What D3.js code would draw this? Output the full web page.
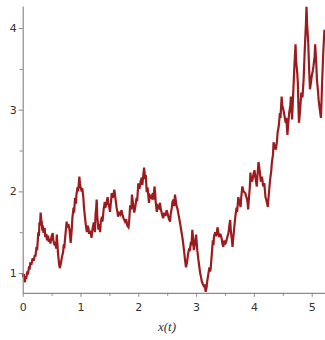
<!DOCTYPE html>
<html>
<head>
<meta charset="utf-8">
<script src="https://cdn.jsdelivr.net/npm/d3@7"></script>
<style>
html,body{margin:0;padding:0;background:#fff;}
svg{display:block;}
</style>
</head>
<body>
<svg id="chart" width="325" height="340"></svg>
<script>
// time values (t)
const tValues = [
0.00,0.01,0.02,0.03,0.04,0.05,0.06,0.08,0.09,0.11,0.12,0.13,0.15,0.17,0.19,0.21,0.22,0.24,0.25,0.27,
0.28,0.29,0.30,0.31,0.32,0.33,0.34,0.35,0.36,0.38,0.39,0.41,0.42,0.44,0.45,0.47,0.48,0.50,0.52,0.53,
0.55,0.56,0.58,0.59,0.60,0.61,0.62,0.63,0.645,0.66,0.68,0.70,0.71,0.72,0.73,0.75,0.76,0.77,0.79,0.81,
0.82,0.83,0.85,0.86,0.88,0.89,0.905,0.92,0.93,0.95,0.96,0.98,0.99,1.00,1.02,1.03,1.05,1.06,1.08,1.09,
1.11,1.12,1.135,1.15,1.17,1.19,1.21,1.23,1.25,1.26,1.27,1.28,1.29,1.31,1.32,1.34,1.35,1.37,1.38,1.40,
1.42,1.43,1.45,1.47,1.48,1.50,1.51,1.53,1.54,1.56,1.585,1.60,1.625,1.64,1.65,1.67,1.69,1.71,1.73,1.75,
1.77,1.79,1.81,1.83,1.84,1.86,1.88,1.89,1.91,1.93,1.95,1.97,1.98,2.00,2.02,2.04,2.06,2.07,2.09,2.10,
2.12,2.13,2.145,2.16,2.185,2.20,2.23,2.25,2.26,2.28,2.29,2.30,2.32,2.34,2.36,2.375,2.39,2.41,2.43,2.45,
2.47,2.49,2.51,2.53,2.55,2.56,2.58,2.59,2.61,2.62,2.635,2.65,2.66,2.68,2.69,2.71,2.73,2.75,2.77,2.79,
2.80,2.81,2.825,2.84,2.865,2.88,2.89,2.91,2.92,2.935,2.95,2.96,2.98,3.00,3.01,3.02,3.04,3.055,3.07,3.085,
3.10,3.12,3.14,3.15,3.165,3.18,3.19,3.21,3.23,3.24,3.25,3.27,3.29,3.30,3.31,3.33,3.35,3.37,3.38,3.40,
3.42,3.44,3.455,3.47,3.49,3.50,3.52,3.54,3.56,3.575,3.59,3.60,3.62,3.63,3.65,3.67,3.68,3.70,3.71,3.73,
3.75,3.77,3.78,3.80,3.82,3.85,3.87,3.89,3.90,3.91,3.93,3.94,3.95,3.97,3.99,4.01,4.03,4.05,4.06,4.08,
4.10,4.12,4.14,4.16,4.18,4.20,4.22,4.24,4.26,4.28,4.30,4.31,4.33,4.34,4.36,4.38,4.40,4.41,4.43,4.45,
4.46,4.48,4.49,4.51,4.53,4.55,4.56,4.58,4.59,4.61,4.63,4.64,4.65,4.66,4.68,4.70,4.72,4.73,4.75,4.76,
4.77,4.78,4.80,4.82,4.84,4.86,4.87,4.88,4.90,4.91,4.92,4.94,4.955,4.97,4.99,5.00,5.02,5.03,5.05,5.06,
5.08,5.09,5.11,5.12,5.14,5.16,5.17,5.18,5.20,5.22
];
// x(t) values
const xValues = [
1.00,0.95,0.99,0.91,0.89,0.96,0.93,1.02,0.98,1.08,1.04,1.13,1.10,1.18,1.15,1.22,1.20,1.32,1.28,1.50,
1.45,1.62,1.58,1.74,1.66,1.62,1.52,1.58,1.49,1.55,1.44,1.48,1.40,1.46,1.38,1.42,1.36,1.45,1.49,1.40,
1.34,1.38,1.30,1.47,1.36,1.25,1.18,1.10,1.06,1.12,1.20,1.26,1.35,1.30,1.40,1.55,1.63,1.56,1.60,1.53,
1.45,1.37,1.55,1.68,1.80,1.74,1.92,1.85,1.96,2.05,2.00,2.18,2.10,2.06,2.00,2.04,1.92,1.80,1.67,1.60,
1.50,1.58,1.56,1.48,1.52,1.43,1.55,1.62,1.50,1.72,1.78,1.90,1.70,1.53,1.60,1.50,1.62,1.69,1.63,1.78,
1.87,1.80,1.86,1.93,1.85,1.80,1.75,1.90,1.98,1.92,2.02,1.94,1.80,1.74,1.69,1.75,1.72,1.77,1.70,1.66,
1.63,1.66,1.58,1.56,1.62,1.83,1.78,1.96,1.85,1.74,1.82,1.92,1.88,2.10,2.03,2.12,2.17,2.08,2.22,2.29,
2.15,2.20,1.99,2.05,1.86,1.95,1.92,1.98,1.90,2.06,2.00,1.88,1.75,1.82,1.80,1.86,1.78,1.72,1.67,1.74,
1.70,1.77,1.72,1.66,1.63,1.72,1.80,1.87,1.90,1.82,1.96,1.88,1.83,1.78,1.74,1.66,1.58,1.49,1.40,1.28,
1.22,1.15,1.07,1.12,1.25,1.30,1.27,1.38,1.34,1.53,1.40,1.28,1.36,1.47,1.38,1.28,1.16,1.08,1.00,0.95,
0.89,0.86,0.83,0.86,0.77,0.82,0.89,0.98,1.07,1.02,1.04,1.22,1.40,1.34,1.45,1.50,1.45,1.56,1.52,1.44,
1.48,1.43,1.36,1.32,1.40,1.35,1.38,1.44,1.49,1.58,1.65,1.52,1.40,1.32,1.48,1.63,1.70,1.80,1.75,1.93,
1.86,1.81,1.92,2.06,2.00,1.98,1.93,1.87,1.78,1.88,2.06,2.23,2.15,2.12,2.20,2.26,2.15,2.06,2.18,2.36,
2.25,2.12,2.18,2.06,2.10,1.93,1.88,1.81,1.98,2.14,2.25,2.35,2.45,2.60,2.55,2.51,2.62,2.72,2.80,2.96,
2.90,3.16,3.05,3.00,2.92,2.84,2.90,2.69,2.80,2.96,3.05,3.16,3.02,2.88,3.20,3.53,3.80,3.60,3.45,3.33,
3.05,2.84,3.00,3.21,3.15,3.37,3.55,3.74,4.05,4.26,4.05,3.82,3.50,3.25,3.35,3.41,3.48,3.53,3.65,3.80,
3.55,3.37,3.22,3.12,3.00,2.90,3.10,3.33,3.70,3.98
];
const xTicks = [0,1,2,3,4,5];
const xMinorTicks = [0.5,1.5,2.5,3.5,4.5];
const yTicks = [1,2,3,4];
const yMinorTicks = [1.5,2.5,3.5];
const axisTitle = "x(t)";

const data = tValues.map((t,i)=>({t:t, v:xValues[i]}));

const svg = d3.select("#chart");
const x = d3.scaleLinear().domain([0, 5.23]).range([22.7, 325]);
const y = d3.scaleLinear().domain([0.758, 4.27]).range([292.8, 6]);

const axisColor = "#8a8a8a";
const textColor = "#333";

const lineGen = d3.line().x(d=>x(d.t)).y(d=>y(d.v));

// line
svg.append("path")
  .datum(data)
  .attr("fill","none")
  .attr("stroke","#9c1b1e")
  .attr("stroke-width",2.2)
  .attr("stroke-linejoin","miter")
  .attr("stroke-miterlimit",3)
  .attr("d", lineGen);

// x axis
const gx = svg.append("g").attr("transform",`translate(0,${y(0.758)})`);
gx.call(d3.axisBottom(x).tickValues(xTicks).tickSize(4).tickSizeOuter(0).tickFormat(d3.format("d")));
const gxm = svg.append("g").attr("transform",`translate(0,${y(0.758)})`);
gxm.call(d3.axisBottom(x).tickValues(xMinorTicks).tickSize(3).tickSizeOuter(0).tickFormat(""));
gxm.select(".domain").remove();

// y axis
const gy = svg.append("g").attr("transform",`translate(${x(0)},0)`);
gy.call(d3.axisLeft(y).tickValues(yTicks).tickSize(4).tickSizeOuter(0).tickFormat(d3.format("d")));
const gym = svg.append("g").attr("transform",`translate(${x(0)},0)`);
gym.call(d3.axisLeft(y).tickValues(yMinorTicks).tickSize(3).tickSizeOuter(0).tickFormat(""));
gym.select(".domain").remove();

svg.selectAll(".domain").attr("stroke",axisColor).attr("stroke-width",1.2);
svg.selectAll(".tick line").attr("stroke",axisColor).attr("stroke-width",1);
svg.selectAll(".tick text")
  .attr("fill",textColor)
  .style("font-family","'DejaVu Sans', Verdana, sans-serif")
  .style("font-size","11px");
gx.selectAll(".tick text").attr("dy","0").attr("y",18);
gy.selectAll(".tick text").attr("x",-6);

// axis title
svg.append("text")
  .attr("x", 167)
  .attr("y", 331)
  .attr("text-anchor","middle")
  .attr("fill",textColor)
  .style("font-family","'Liberation Serif', 'Times New Roman', serif")
  .style("font-style","italic")
  .style("font-size","13px")
  .text(axisTitle);
</script>
</body>
</html>
